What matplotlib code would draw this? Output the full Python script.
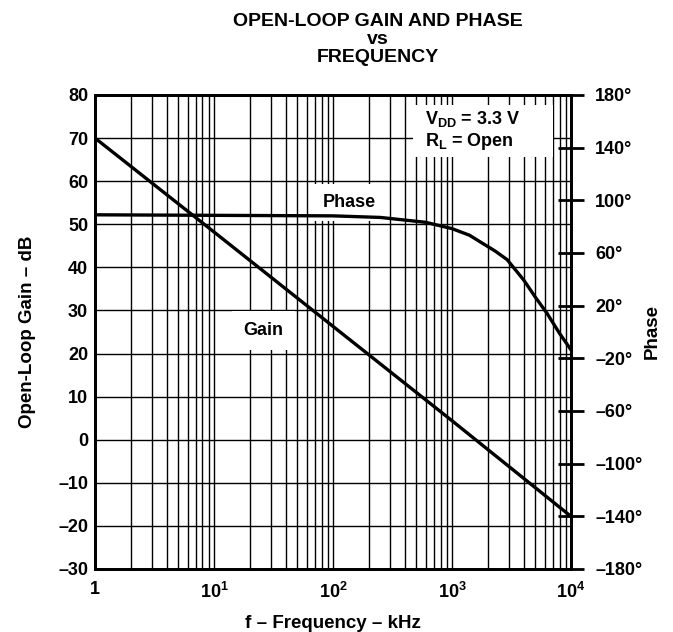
import matplotlib
matplotlib.use('Agg')
import matplotlib.pyplot as plt
from matplotlib.patches import Rectangle

plt.rcParams['font.family'] = ['Liberation Sans', 'DejaVu Sans']
plt.rcParams['font.weight'] = 'bold'
plt.rcParams['axes.labelweight'] = 'bold'
plt.rcParams['mathtext.fontset'] = 'custom'
plt.rcParams['mathtext.rm'] = 'Liberation Sans:bold'
plt.rcParams['mathtext.it'] = 'Liberation Sans:bold'
plt.rcParams['mathtext.bf'] = 'Liberation Sans:bold'

# Dados
freq_gain = [1, 10, 100, 1000, 10000]
gain_db = [70, 48.2, 26.3, 4.4, -17.8]

freq_phase = [1, 10, 100, 250, 600, 1000, 1400, 1800, 2300, 2900, 4000, 5000, 6300, 8000, 10000]
phase_deg = [89, 88.6, 88.2, 87, 83.3, 78.5, 73.5, 67.4, 61.5, 55, 39.5, 26.6, 14, -1, -13.6]

gain_ticks = list(range(-30, 81, 10))
phase_ticks = list(range(-180, 181, 40))
freq_ticks = [1, 10, 100, 1000, 10000]
freq_labels = ['1', r'10$^{1}$', r'10$^{2}$', r'10$^{3}$', r'10$^{4}$']
phase_labels = [(str(p) + '°').replace('-', '–') for p in phase_ticks]
gain_labels = [str(g).replace('-', '–') for g in gain_ticks]

fig = plt.figure(figsize=(6.73, 6.32), dpi=100)
ax = fig.add_axes([0.1412, 0.0997, 0.7073, 0.75])

ax.set_xscale('log')
ax.set_xlim(1, 1e4)
ax.set_ylim(-30, 80)
ax.set_xticks(freq_ticks)
ax.set_xticklabels(freq_labels)
ax.set_yticks(gain_ticks)
ax.set_yticklabels(gain_labels)
ax.tick_params(axis='both', which='both', length=0, labelsize=13)
ax.tick_params(axis='y', pad=5)
ax.tick_params(axis='x', pad=9)

ax.set_axisbelow(True)
ax.grid(True, which='both', axis='x', color='black', linewidth=1.0)
ax.grid(True, which='major', axis='y', color='black', linewidth=1.0)

ax.plot(freq_gain, gain_db, color='black', linewidth=2.4, zorder=3)

# caixas brancas dos rótulos
ax.text(26, 25.4, 'Gain', fontsize=13, ha='center', va='center', zorder=2,
        bbox=dict(facecolor='white', edgecolor='none', pad=8))
ax.text(136, 55.0, 'Phase', fontsize=13, ha='center', va='center', zorder=2,
        bbox=dict(facecolor='white', edgecolor='none', pad=7))
ax.add_patch(Rectangle((0.668, 0.869), 0.294, 0.11, transform=ax.transAxes,
                       facecolor='white', edgecolor='none', zorder=2))
ax.text(0.693, 0.97, 'V$_{\\mathrm{DD}}$ = 3.3 V\nR$_{\\mathrm{L}}$ = Open',
        transform=ax.transAxes, fontsize=13, ha='left', va='top',
        linespacing=1.15, zorder=2.5)

ax.set_xlabel('f – Frequency – kHz', fontsize=13.5, labelpad=10)
ax.set_ylabel('Open-Loop Gain – dB', fontsize=13.5, labelpad=16)

ax2 = ax.twinx()
ax2.set_ylim(-180, 180)
ax2.set_yticks(phase_ticks)
ax2.set_yticklabels(phase_labels)
ax2.tick_params(axis='y', direction='inout', length=19, width=2, labelsize=13, pad=8)
ax2.plot(freq_phase, phase_deg, color='black', linewidth=2.4)
ax2.set_ylabel('Phase', fontsize=13.5, labelpad=1)

for a in (ax, ax2):
    for s in a.spines.values():
        s.set_linewidth(2)

fig.text(0.562, 1 - 21 / 632, 'OPEN-LOOP GAIN AND PHASE', ha='center', va='center', fontsize=14)
fig.text(0.562, 1 - 39 / 632, 'vs', ha='center', va='center', fontsize=14)
fig.text(0.562, 1 - 58 / 632, 'FREQUENCY', ha='center', va='center', fontsize=14)

fig.savefig('out.png', dpi=100)
